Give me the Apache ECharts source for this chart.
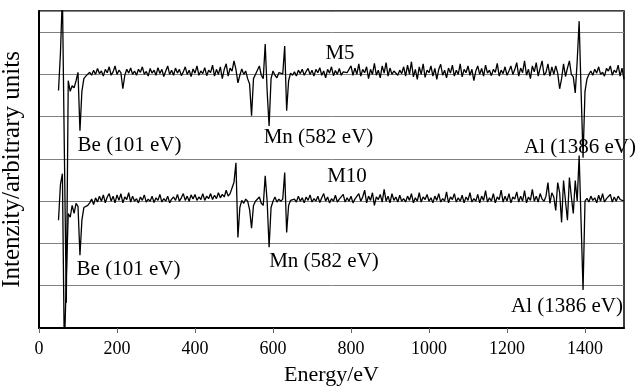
<!DOCTYPE html>
<html>
<head>
<meta charset="utf-8">
<script src="https://cdn.jsdelivr.net/npm/echarts/dist/echarts.min.js"></script>
<style>
html,body{margin:0;padding:0;background:#fff;}
#chart{width:637px;height:386px;}
</style>
</head>
<body>
<div id="chart"></div>
<script>
// Energy grid: 50 eV to 1500 eV, sampled every 5 eV (one row below = 50 eV)
const energyStart = 50;
const energyStep = 5;

// M5 spectrum (arbitrary units; baseline ~600)
const m5 = [
  562, 650, 790, 420, 60, 585, 560, 573, 568, 585,
  605, 467, 560, 590, 596, 592, 605, 598, 610, 600,
  614, 602, 608, 596, 612, 604, 618, 598, 606, 620,
  600, 610, 604, 566, 598, 612, 603, 615, 600, 608,
  598, 612, 605, 618, 600, 607, 596, 614, 603, 610,
  598, 616, 602, 612, 595, 608, 620, 600, 610, 598,
  615, 603, 612, 597, 606, 618, 600, 610, 595, 613,
  603, 620, 598, 608, 602, 616, 597, 610, 604, 622,
  596, 612, 600, 618, 590, 612, 625, 596, 615, 608,
  632, 612, 580, 598, 613, 600, 608, 590, 577, 502,
  590, 600, 604, 620, 598, 590, 672, 560, 478, 590,
  608, 598, 592, 604, 600, 601, 667, 514, 585, 603,
  598, 606, 596, 610, 602, 612, 598, 607, 614, 600,
  610, 596, 612, 604, 616, 598, 608, 592, 612, 603,
  618, 597, 609, 600, 614, 598, 606, 602, 604, 600,
  620, 598, 615, 600, 625, 596, 612, 604, 618, 590,
  612, 600, 626, 598, 610, 592, 620, 603, 628, 596,
  615, 600, 608, 604, 598, 610, 602, 618, 596, 622,
  600, 630, 594, 612, 588, 618, 600, 625, 593, 610,
  604, 620, 596, 614, 588, 612, 624, 598, 610, 592,
  615, 603, 622, 596, 610, 600, 625, 594, 612, 604,
  620, 598, 612, 585, 608, 620, 600, 614, 596, 622,
  603, 610, 597, 612, 605, 626, 596, 610, 602, 618,
  598, 608, 620, 600, 612, 628, 596, 615, 604, 632,
  598, 612, 590, 620, 606, 628, 596, 615, 632, 598,
  605, 625, 596, 618, 600, 620, 603, 566, 590, 625,
  595, 615, 632, 600, 594, 556, 632, 726, 560, 403,
  560, 589, 600, 608, 598, 612, 603, 618, 600, 605,
  596, 614, 608, 620, 598, 610, 604, 622, 596, 615,
  588
];

// M10 spectrum (arbitrary units; baseline ~300)
const m10 = [
  255, 340, 365, -60, 120, 271, 262, 290, 271, 295,
  288, 172, 255, 285, 282, 290, 296, 305, 292, 308,
  298, 312, 300, 315, 296, 310, 318, 300, 312, 296,
  315, 302, 318, 296, 310, 304, 320, 298, 312, 300,
  306, 296, 310, 302, 315, 298, 305, 300, 312, 297,
  308, 302, 316, 298, 306, 300, 312, 296, 305, 310,
  302, 316, 300, 308, 318, 302, 312, 300, 315, 305,
  316, 302, 310, 304, 318, 302, 312, 306, 318, 304,
  314, 306, 320, 308, 316, 310, 326, 312, 318, 322,
  345, 391, 214, 285, 302, 295, 305, 300, 280, 236,
  290, 300, 302, 310, 295, 290, 360, 300, 191, 285,
  300, 310, 298, 305, 300, 305, 368, 226, 290, 302,
  298, 305, 298, 312, 300, 308, 296, 310, 302, 315,
  298, 306, 300, 312, 297, 308, 318, 300, 310, 296,
  306, 300, 314, 298, 305, 302, 316, 298, 308, 300,
  312, 296, 305, 302, 318, 300, 310, 326, 296, 312,
  302, 320, 290, 310, 304, 316, 298, 328, 300, 312,
  296, 318, 302, 310, 298, 314, 300, 306, 298, 312,
  302, 318, 296, 308, 300, 320, 298, 310, 304, 316,
  300, 308, 296, 312, 302, 318, 298, 306, 300, 322,
  296, 310, 304, 318, 298, 308, 300, 314, 296, 310,
  302, 320, 298, 306, 300, 316, 296, 312, 302, 325,
  298, 308, 300, 318, 296, 310, 304, 326, 298, 312,
  300, 318, 296, 310, 305, 322, 298, 312, 300, 325,
  296, 310, 302, 328, 300, 312, 298, 318, 305, 300,
  312, 344, 295, 320, 310, 278, 344, 320, 250, 349,
  300, 255, 356, 310, 271, 349, 300, 408, 250, 90,
  300, 307, 298, 312, 302, 308, 296, 314, 300, 318,
  298, 306, 302, 316, 298, 310, 300, 312, 304, 308,
  300
];

const xTicks = [0, 200, 400, 600, 800, 1000, 1200, 1400];
const labels = ['M5', 'M10', 'Be (101 eV)', 'Be (101 eV)', 'Mn (582 eV)', 'Mn (582 eV)', 'Al (1386 eV)', 'Al (1386 eV)'];

const FONT = "'Liberation Serif', 'Times New Roman', serif";
const toPairs = arr => arr.map((v, i) => [energyStart + energyStep * i, v]);

// label placement (pixel centres)
const labelPos = [[340, 53], [347, 176], [129.5, 145], [128.5, 269], [318.5, 137], [324, 261], [580, 147], [567, 306]];

const chart = echarts.init(document.getElementById('chart'), null, {renderer: 'canvas'});
chart.setOption({
  animation: false,
  backgroundColor: '#fff',
  grid: {left: 39, right: 13, top: 11, bottom: 58, containLabel: false, outerBoundsMode: 'none',
    show: true, borderColor: '#000', borderWidth: 1.5, backgroundColor: 'transparent'},
  xAxis: {
    type: 'value', min: 0, max: 1500, interval: 200,
    name: 'Energy/eV', nameLocation: 'middle', nameGap: 36,
    nameTextStyle: {fontFamily: FONT, fontSize: 22, color: '#000'},
    axisLine: {show: true, lineStyle: {color: '#000', width: 2}},
    axisTick: {show: true, inside: false, length: 5, lineStyle: {color: '#666', width: 1}},
    axisLabel: {fontFamily: FONT, fontSize: 18, color: '#000', margin: 12, showMaxLabel: false,
      formatter: v => xTicks.indexOf(v) >= 0 ? String(v) : ''},
    splitLine: {show: false}
  },
  yAxis: {
    type: 'value', min: 0, max: 750, interval: 100,
    name: 'Intenzity/arbitrary units', nameLocation: 'middle', nameGap: 14,
    nameTextStyle: {fontFamily: FONT, fontSize: 25, color: '#000'},
    axisLine: {show: true, lineStyle: {color: '#000', width: 2}},
    axisTick: {show: false},
    axisLabel: {show: false},
    splitLine: {show: true, lineStyle: {color: '#808080', width: 1}}
  },
  series: [
    {type: 'line', name: 'M5', data: toPairs(m5), showSymbol: false, symbol: 'none', clip: true,
     lineStyle: {color: '#000', width: 1.3}, z: 3},
    {type: 'line', name: 'M10', data: toPairs(m10), showSymbol: false, symbol: 'none', clip: true,
     lineStyle: {color: '#000', width: 1.3}, z: 3}
  ],
  graphic: labels.map((t, i) => ({
    type: 'text', x: labelPos[i][0], y: labelPos[i][1], z: 1,
    style: {text: t, fill: '#000', font: '21px ' + FONT, textAlign: 'center', textVerticalAlign: 'middle'}
  }))
});
</script>
</body>
</html>
